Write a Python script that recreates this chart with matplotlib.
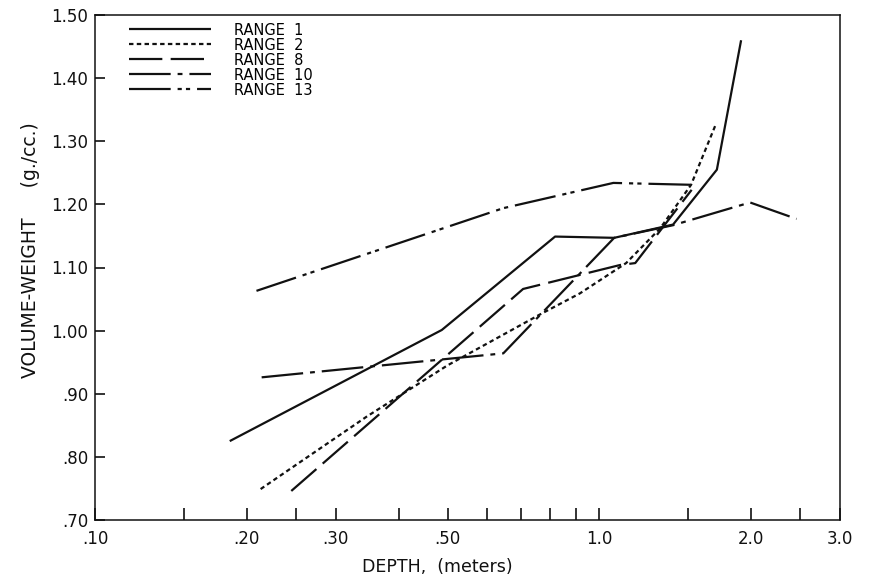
import numpy as np
import matplotlib
matplotlib.use("Agg")
import matplotlib.pyplot as plt
from matplotlib.ticker import FixedLocator, NullLocator, FixedFormatter

# depth (m) / volume-weight (g/cc)
r1_depth = [0.185, 0.487, 0.817, 1.07, 1.40, 1.71, 1.91]
r1_vw = [0.825, 1.001, 1.149, 1.147, 1.168, 1.255, 1.46]

r2_depth = [0.213, 0.346, 0.50, 0.76, 0.915, 1.13, 1.32, 1.52, 1.70]
r2_vw = [0.749, 0.864, 0.945, 1.025, 1.059, 1.107, 1.162, 1.231, 1.326]

r8_depth = [0.245, 0.706, 1.10, 1.178, 1.524]
r8_vw = [0.746, 1.066, 1.104, 1.107, 1.223]

r10_depth = [0.214, 0.645, 1.07, 1.40, 1.99, 2.46]
r10_vw = [0.926, 0.964, 1.147, 1.167, 1.203, 1.177]

r13_depth = [0.209, 0.645, 1.066, 1.524]
r13_vw = [1.063, 1.194, 1.234, 1.231]

series_labels = ["RANGE  1", "RANGE  2", "RANGE  8", "RANGE  10", "RANGE  13"]

x_ticks = [0.1, 0.15, 0.2, 0.25, 0.3, 0.4, 0.5, 0.6, 0.7, 0.8, 0.9, 1.0, 1.5, 2.0, 2.5, 3.0]
x_ticklabels = [".10", "", ".20", "", ".30", "", ".50", "", "", "", "", "1.0", "", "2.0", "", "3.0"]
y_ticks = [0.70, 0.80, 0.90, 1.00, 1.10, 1.20, 1.30, 1.40, 1.50]
y_ticklabels = [".70", ".80", ".90", "1.00", "1.10", "1.20", "1.30", "1.40", "1.50"]

plt.rcParams['lines.scale_dashes'] = False
plt.rcParams['font.family'] = ['DejaVu Sans']

fig = plt.figure(figsize=(8.77, 5.76), dpi=100)
ax = fig.add_axes([95/877, 56/576, 745/877, 505/576])

ink = '#111111'
lw = 1.6
styles = [
    '-',
    (0, (3.2, 2.4)),
    (0, (24, 6)),
    (0, (30, 5, 3.5, 5)),
    (0, (30, 5, 3, 3, 3, 5)),
]
data = [(r1_depth, r1_vw), (r2_depth, r2_vw), (r8_depth, r8_vw),
        (r10_depth, r10_vw), (r13_depth, r13_vw)]
for (xd, yd), ls, lab in zip(data, styles, series_labels):
    ax.plot(xd, yd, color=ink, lw=lw, linestyle=ls, label=lab,
            solid_capstyle='butt', dash_capstyle='butt')

ax.set_xscale('log')
ax.set_xlim(0.1, 3.0)
ax.set_ylim(0.70, 1.50)

ax.xaxis.set_major_locator(FixedLocator(x_ticks))
ax.xaxis.set_major_formatter(FixedFormatter(x_ticklabels))
ax.xaxis.set_minor_locator(NullLocator())
ax.yaxis.set_major_locator(FixedLocator(y_ticks))
ax.yaxis.set_major_formatter(FixedFormatter(y_ticklabels))

ax.tick_params(axis='x', direction='in', length=9, width=1.2, pad=7,
               labelsize=12, colors=ink)
ax.tick_params(axis='y', direction='in', length=7, width=1.2, pad=5,
               labelsize=12, colors=ink)
for sp in ax.spines.values():
    sp.set_linewidth(1.1)
    sp.set_color(ink)

ax.set_xlabel("DEPTH,  (meters)", fontsize=12.5, color=ink, labelpad=6)
ax.xaxis.set_label_coords(0.459, -0.075)
ax.set_ylabel("VOLUME-WEIGHT     (g./cc.)", fontsize=13.5, color=ink)
ax.yaxis.set_label_coords(-0.074, 0.535)

ax.legend(loc='upper left', bbox_to_anchor=(0.046, 0.985), frameon=False,
          fontsize=10.5, handlelength=5.6, handletextpad=1.6,
          labelspacing=0.0, borderpad=0, borderaxespad=0)

fig.savefig("out.png", dpi=100)
